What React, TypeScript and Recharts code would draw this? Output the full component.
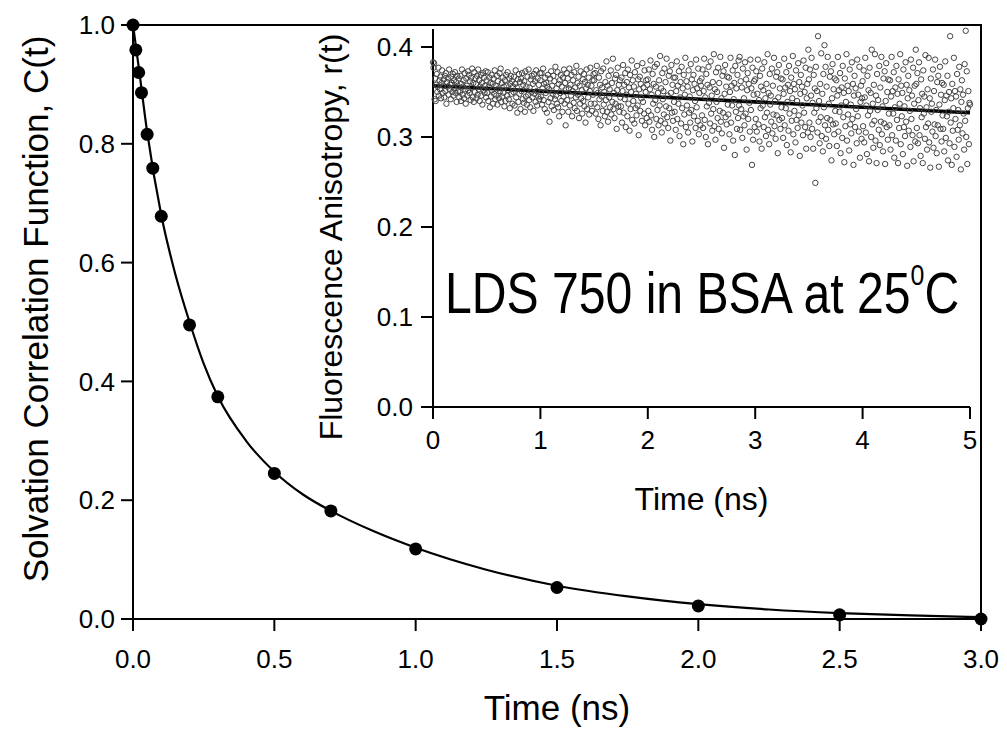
import React from "react";
import { ComposedChart, Line, Scatter, XAxis, YAxis, ReferenceArea, Label } from "recharts";

const W = 1007;
const H = 737;
const FONT = '"Liberation Sans", Arial, Helvetica, sans-serif';

// main plot: solvation correlation function
const solvTimes = [0, 0.01, 0.02, 0.03, 0.05, 0.07, 0.1, 0.2, 0.3, 0.5, 0.7, 1.0, 1.5, 2.0, 2.5, 3.0];
const solvValues = [1.0, 0.958, 0.92, 0.886, 0.816, 0.759, 0.678, 0.495, 0.374, 0.245, 0.182, 0.118, 0.053, 0.022, 0.007, 0.0];

// fitted curve
const fitTimes = [0, 0.02, 0.05, 0.1, 0.15, 0.2, 0.25, 0.3, 0.4, 0.5, 0.6, 0.7, 0.85, 1.0, 1.25, 1.5, 1.75, 2.0, 2.25, 2.5, 2.75, 3.0];
const fitValues = [1.0, 0.93, 0.82, 0.68, 0.58, 0.5, 0.43, 0.375, 0.3, 0.248, 0.21, 0.182, 0.148, 0.12, 0.083, 0.056, 0.038, 0.025, 0.016, 0.01, 0.006, 0.003];

const mainXTicks = [0, 0.5, 1.0, 1.5, 2.0, 2.5, 3.0];
const mainYTicks = [0, 0.2, 0.4, 0.6, 0.8, 1.0];

// inset: anisotropy decay, one channel every 0.005 ns (rows of 0.25 ns)
const anisoStep = 0.005;
const anisoValues = [
  .383,.377,.382,.342,.365,.340,.358,.370,.350,.356,.377,.346,.363,.353,.367,.343,.360,.374,.349,.357,.364,.344,.368,.351,.371,.337,.361,.356,.365,.347,.375,.353,.358,.342,.367,.360,.350,.370,.346,.363,.354,.372,.349,.361,.339,.368,.357,.351,.365,.344,
  .350,.368,.340,.359,.375,.347,.356,.363,.343,.371,.353,.337,.365,.357,.346,.373,.352,.369,.349,.362,.341,.366,.355,.376,.344,.360,.339,.372,.350,.365,.359,.343,.368,.347,.375,.353,.363,.340,.356,.369,.346,.360,.336,.371,.352,.366,.349,.357,.373,.344,
  .363,.349,.372,.340,.356,.366,.333,.360,.345,.369,.352,.359,.337,.365,.348,.374,.342,.357,.346,.368,.336,.362,.354,.343,.371,.351,.376,.339,.360,.345,.366,.349,.356,.334,.363,.340,.369,.357,.346,.372,.352,.342,.365,.332,.359,.368,.348,.362,.337,.356,
  .350,.367,.335,.359,.374,.344,.355,.327,.364,.339,.370,.348,.361,.331,.365,.351,.371,.342,.358,.338,.362,.328,.373,.345,.356,.336,.367,.347,.375,.341,.355,.333,.364,.350,.368,.344,.359,.329,.370,.348,.362,.339,.374,.351,.335,.365,.345,.358,.342,.371,
  .363,.345,.371,.336,.354,.376,.341,.359,.331,.366,.349,.360,.327,.356,.369,.339,.353,.317,.365,.343,.373,.334,.357,.348,.368,.330,.362,.342,.378,.346,.354,.337,.372,.333,.359,.323,.363,.349,.369,.340,.356,.328,.366,.345,.375,.337,.360,.313,.353,.371,
  .341,.365,.328,.354,.376,.335,.358,.346,.369,.323,.351,.363,.338,.372,.332,.355,.344,.379,.329,.360,.347,.367,.321,.357,.337,.373,.343,.352,.326,.364,.340,.370,.334,.361,.316,.354,.375,.331,.358,.344,.366,.325,.351,.377,.337,.357,.329,.363,.347,.370,
  .363,.337,.371,.326,.352,.379,.333,.349,.320,.366,.342,.358,.313,.373,.345,.355,.329,.376,.336,.350,.323,.361,.341,.384,.328,.357,.317,.368,.344,.353,.333,.374,.325,.360,.339,.387,.331,.349,.321,.365,.337,.369,.309,.352,.377,.334,.358,.328,.363,.344,
  .334,.366,.316,.351,.380,.327,.358,.342,.371,.311,.347,.361,.323,.375,.337,.355,.307,.369,.331,.350,.385,.319,.363,.340,.356,.315,.372,.332,.348,.324,.379,.335,.364,.302,.353,.367,.329,.359,.343,.318,.382,.339,.355,.326,.374,.313,.350,.363,.321,.358,
  .364,.329,.375,.317,.353,.385,.324,.347,.308,.370,.337,.359,.300,.378,.341,.356,.320,.381,.330,.349,.313,.363,.335,.390,.318,.354,.305,.371,.342,.351,.325,.376,.315,.361,.334,.387,.322,.346,.310,.368,.332,.373,.296,.349,.380,.327,.358,.318,.366,.339,
  .328,.366,.308,.351,.384,.320,.357,.337,.373,.301,.344,.361,.315,.378,.332,.354,.292,.369,.325,.347,.388,.311,.362,.335,.356,.305,.374,.327,.345,.316,.381,.330,.364,.295,.352,.369,.323,.359,.340,.310,.386,.333,.354,.318,.376,.303,.349,.362,.313,.357,
  .365,.324,.375,.310,.351,.387,.319,.344,.300,.370,.334,.358,.292,.378,.338,.355,.315,.384,.326,.346,.307,.361,.331,.392,.312,.353,.297,.372,.339,.350,.321,.377,.309,.360,.329,.389,.317,.343,.304,.368,.327,.373,.288,.348,.380,.322,.356,.314,.367,.336,
  .325,.366,.303,.350,.388,.316,.357,.335,.374,.296,.342,.360,.280,.379,.328,.354,.309,.369,.321,.385,.335,.389,.308,.362,.331,.355,.299,.376,.323,.343,.313,.383,.326,.364,.286,.352,.371,.320,.359,.338,.306,.386,.330,.354,.269,.377,.297,.347,.362,.311,
  .364,.320,.373,.306,.348,.386,.314,.341,.295,.368,.332,.356,.287,.376,.335,.352,.311,.383,.322,.343,.301,.359,.327,.392,.308,.349,.292,.370,.336,.346,.317,.376,.304,.357,.325,.388,.312,.340,.298,.367,.324,.372,.282,.344,.380,.319,.354,.309,.365,.333,
  .321,.364,.299,.348,.387,.313,.355,.332,.372,.291,.339,.358,.307,.379,.326,.351,.283,.366,.318,.343,.390,.303,.359,.329,.353,.294,.374,.319,.340,.310,.382,.324,.361,.279,.348,.369,.316,.356,.335,.302,.385,.327,.350,.311,.377,.287,.343,.359,.305,.397,
  .364,.316,.375,.300,.346,.388,.309,.338,.287,.369,.327,.354,.249,.378,.332,.351,.305,.412,.317,.340,.293,.359,.322,.393,.301,.348,.284,.370,.333,.402,.313,.378,.298,.356,.321,.389,.308,.337,.290,.367,.319,.373,.274,.343,.381,.314,.353,.303,.365,.329,
  .315,.363,.290,.346,.389,.306,.352,.328,.371,.282,.335,.355,.299,.379,.322,.349,.272,.365,.312,.339,.392,.296,.357,.325,.351,.285,.375,.314,.336,.304,.383,.320,.359,.269,.346,.368,.311,.354,.331,.293,.386,.323,.347,.306,.378,.277,.339,.357,.298,.343,
  .362,.312,.374,.294,.344,.388,.305,.335,.281,.368,.324,.352,.273,.377,.329,.349,.300,.397,.314,.337,.288,.358,.318,.392,.296,.346,.271,.370,.330,.341,.308,.379,.291,.355,.317,.389,.303,.334,.284,.365,.315,.373,.270,.340,.382,.311,.350,.297,.364,.326,
  .313,.363,.286,.345,.389,.302,.351,.326,.372,.277,.333,.355,.296,.379,.319,.348,.271,.364,.310,.337,.392,.292,.357,.323,.349,.281,.375,.311,.334,.301,.383,.317,.358,.268,.343,.368,.307,.352,.329,.289,.386,.320,.346,.302,.377,.273,.337,.357,.295,.397,
  .359,.310,.371,.293,.341,.383,.302,.332,.279,.364,.322,.348,.271,.374,.326,.345,.298,.391,.311,.333,.286,.353,.315,.388,.294,.343,.266,.365,.328,.337,.306,.375,.288,.351,.314,.386,.301,.330,.282,.361,.313,.368,.267,.336,.378,.309,.347,.295,.360,.324,
  .309,.358,.284,.341,.384,.299,.346,.323,.368,.274,.328,.350,.293,.412,.316,.343,.269,.359,.307,.332,.388,.289,.351,.320,.345,.278,.370,.308,.330,.297,.378,.313,.353,.264,.339,.363,.304,.347,.326,.286,.381,.318,.418,.300,.373,.270,.332,.351,.292,.338,.336,
];

const anisoFitTimes = [0, 1, 2, 3, 4, 5];
const anisoFitValues = [0.357, 0.351, 0.345, 0.339, 0.333, 0.327];

const insetXTicks = [0, 1, 2, 3, 4, 5];
const insetYTicks = [0, 0.1, 0.2, 0.3, 0.4];

const solvData = solvTimes.map((t, i) => ({ t, c: solvValues[i] }));
const fitData = fitTimes.map((t, i) => ({ t, c: fitValues[i] }));
const anisoData = anisoValues.map((r, i) => ({ t: +(i * anisoStep).toFixed(3), r }));
const anisoFitData = anisoFitTimes.map((t, i) => ({ t, r: anisoFitValues[i] }));

const axisStroke = { stroke: "#000", strokeWidth: 2 };
const tickStyle = { fontSize: 26, fill: "#000", fontFamily: FONT };

const OpenCircle = (p: any) => (
  <circle cx={p.cx} cy={p.cy} r={2.7} fill="none" stroke="#444" strokeWidth={1} />
);

const FilledDot = (p: any) => <circle cx={p.cx} cy={p.cy} r={6.5} fill="#000" />;

export default function App() {
  return (
    <div style={{ position: "fixed", left: 0, top: 0, width: W, height: H, background: "#fff" }}>
      <div style={{ position: "absolute", left: 0, top: 0 }}>
        <ComposedChart width={W} height={H} margin={{ top: 25, right: 26, bottom: 0, left: 0 }}>
          <XAxis
            type="number"
            dataKey="t"
            domain={[0, 3]}
            ticks={mainXTicks}
            tickFormatter={(v: number) => v.toFixed(1)}
            height={118}
            tickSize={12}
            tickMargin={19}
            axisLine={axisStroke}
            tickLine={axisStroke}
            tick={tickStyle}
          >
            <Label
              content={({ viewBox }: any) => (
                <text x={viewBox.x + viewBox.width / 2} y={viewBox.y + 101} textAnchor="middle" fontSize={35} fontFamily={FONT} fill="#000">
                  Time (ns)
                </text>
              )}
            />
          </XAxis>
          <YAxis
            type="number"
            domain={[0, 1]}
            ticks={mainYTicks}
            tickFormatter={(v: number) => v.toFixed(1)}
            width={133}
            tickSize={12}
            tickMargin={6}
            axisLine={axisStroke}
            tickLine={axisStroke}
            tick={tickStyle}
          >
            <Label
              content={({ viewBox }: any) => {
                const cx = viewBox.x + 35;
                const cy = viewBox.y + viewBox.height / 2 - 13;
                return (
                  <text x={cx} y={cy} dy="0.36em" transform={`rotate(-90, ${cx}, ${cy})`} textAnchor="middle" fontSize={35} fontFamily={FONT} fill="#000">
                    Solvation Correlation Function, C(t)
                  </text>
                );
              }}
            />
          </YAxis>
          <ReferenceArea x1={0} x2={3} y1={0} y2={1} fill="none" stroke="#000" strokeWidth={2} />
          <Line data={fitData} dataKey="c" type="monotone" stroke="#000" strokeWidth={2.2} dot={false} isAnimationActive={false} />
          <Scatter data={solvData} dataKey="c" shape={FilledDot} isAnimationActive={false} />
        </ComposedChart>
      </div>

      <div style={{ position: "absolute", left: 0, top: 0 }}>
        <ComposedChart width={W} height={H} margin={{ top: 29, right: 37, bottom: 0, left: 0 }}>
          <XAxis
            type="number"
            dataKey="t"
            domain={[0, 5]}
            ticks={insetXTicks}
            height={330}
            tickSize={12}
            tickMargin={12}
            axisLine={axisStroke}
            tickLine={axisStroke}
            tick={tickStyle}
          >
            <Label
              content={({ viewBox }: any) => (
                <text x={viewBox.x + viewBox.width / 2} y={viewBox.y + 103} textAnchor="middle" fontSize={32} fontFamily={FONT} fill="#000">
                  Time (ns)
                </text>
              )}
            />
          </XAxis>
          <YAxis
            type="number"
            domain={[0, 0.42]}
            ticks={insetYTicks}
            tickFormatter={(v: number) => v.toFixed(1)}
            width={433}
            tickSize={12}
            tickMargin={8}
            axisLine={axisStroke}
            tickLine={axisStroke}
            tick={tickStyle}
          >
            <Label
              content={({ viewBox }: any) => {
                const cx = viewBox.x + viewBox.width - 103;
                const cy = viewBox.y + viewBox.height / 2 + 19;
                return (
                  <text x={cx} y={cy} dy="0.36em" transform={`rotate(-90, ${cx}, ${cy})`} textAnchor="middle" fontSize={32} fontFamily={FONT} fill="#000">
                    Fluorescence Anisotropy, r(t)
                  </text>
                );
              }}
            />
          </YAxis>
          <Scatter data={anisoData} dataKey="r" shape={OpenCircle} isAnimationActive={false} />
          <Line data={anisoFitData} dataKey="r" type="monotone" stroke="#000" strokeWidth={3.6} dot={false} isAnimationActive={false} />
        </ComposedChart>
      </div>

      <svg width={W} height={H} style={{ position: "absolute", left: 0, top: 0, pointerEvents: "none" }}>
        <text transform="translate(445, 313) scale(0.83, 1)" fontSize={58} fontFamily={FONT} fill="#000">
          LDS 750 in BSA at 25
          <tspan dy={-28} fontSize={30}>0</tspan>
          <tspan dy={28}>C</tspan>
        </text>
      </svg>
    </div>
  );
}
